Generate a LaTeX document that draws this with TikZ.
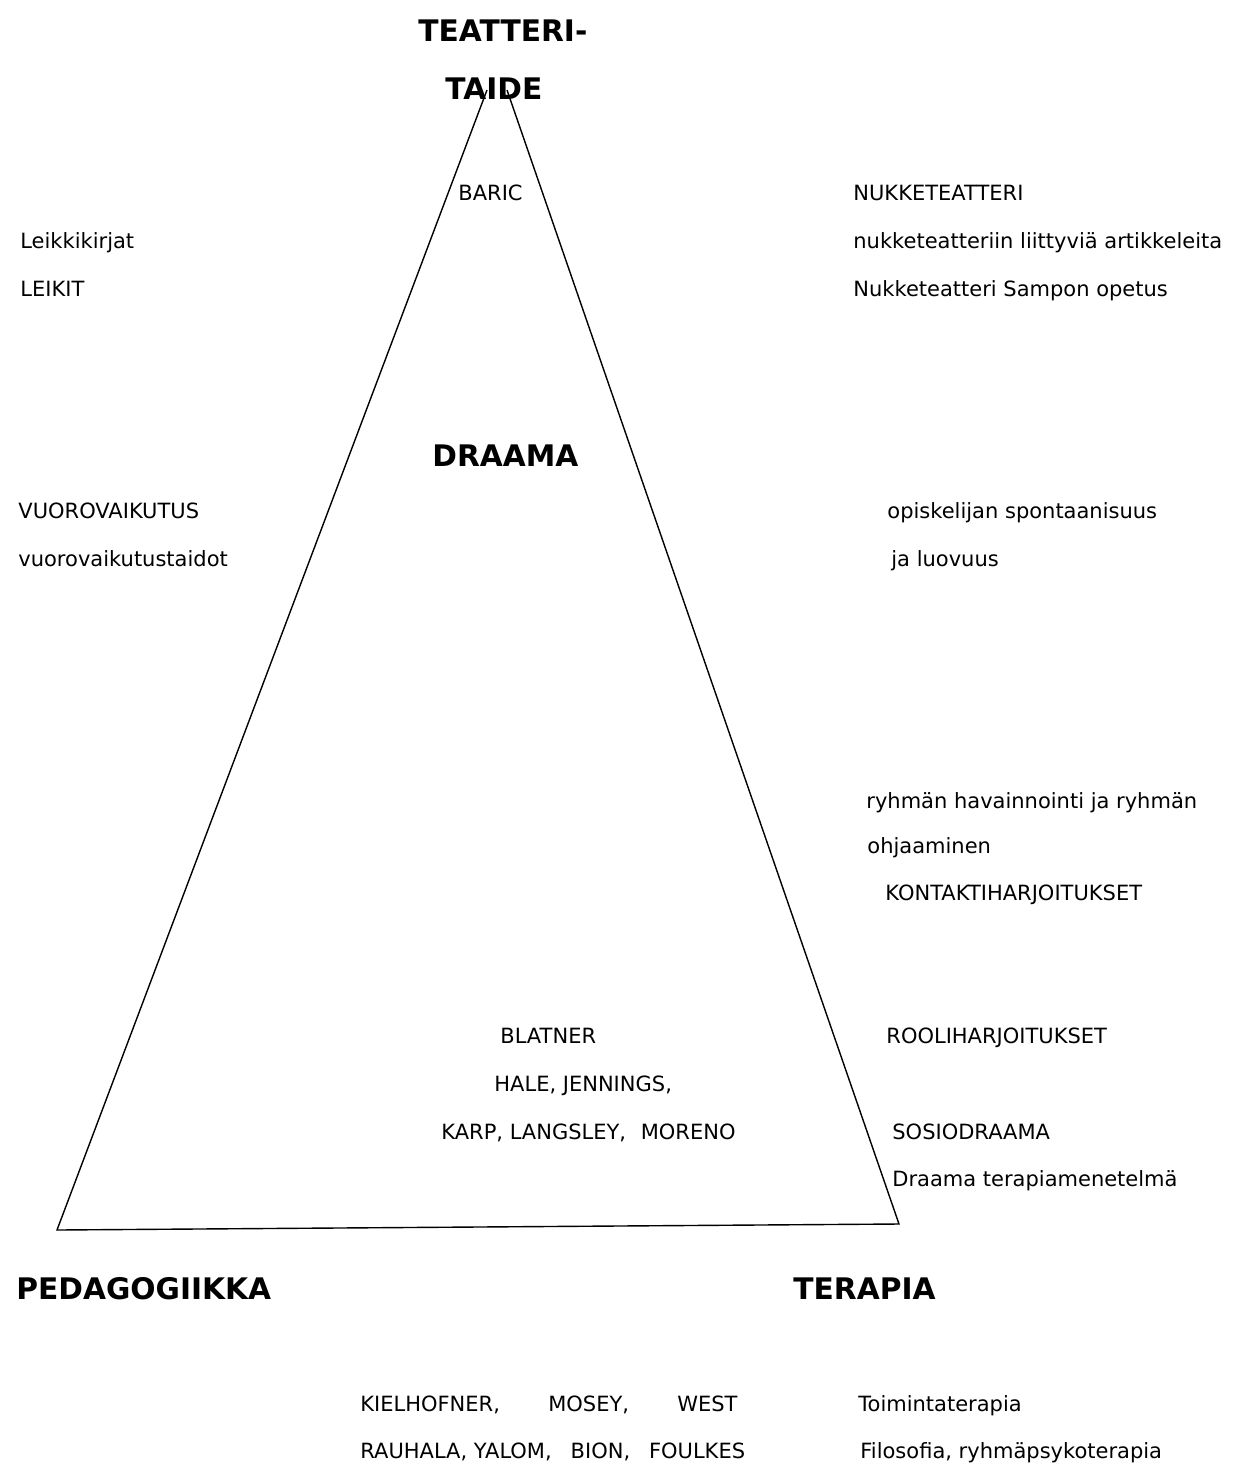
\documentclass[tikz,border=0pt]{standalone}
\usepackage{fontspec}
\setmainfont{DejaVu Sans}
\begin{document}
\begin{tikzpicture}[
    x=0.5pt, y=-0.5pt,
    txt/.style  = {anchor = base west, inner sep = 0pt, font = \fontsize{10.5}{13}\selectfont},
    head/.style = {anchor = base west, inner sep = 0pt, font = \fontsize{14.85}{17}\selectfont\bfseries},
    side/.style = {line width = .7pt},
  ]
	\useasboundingbox (0,0) rectangle (1234,1463);

	% Ecken des Dreiecks
	\coordinate (TL) at (487,90); % Spitze, links
	\coordinate (TR) at (507,90); % Spitze, rechts
	\coordinate (BL) at (57,1230);
	\coordinate (BR) at (899,1224);

	% Seiten
	\draw[side] (TL) -- (BL) -- (BR) -- (TR);

	% Ecken beschriften
	\node (teatteri) at (418,41) [head] {TEATTERI-};
	\node (taide)    at (445,99) [head] {TAIDE};
	\node (draama)   at (432,466) [head] {DRAAMA};
	\node (pedag)    at (16,1299) [head] {PEDAGOGIIKKA};
	\node (terapia)  at (793,1299) [head] {TERAPIA};

	% links
	\node (leikkik)  at (20,248) [txt] {Leikkikirjat};
	\node (leikit)   at (20,296) [txt] {LEIKIT};
	\node (vuoro)    at (18,518) [txt] {VUOROVAIKUTUS};
	\node (vuorot)   at (18,566) [txt] {vuorovaikutustaidot};

	% im Dreieck
	\node (baric)    at (458,200) [txt] {BARIC};
	\node (blatner)  at (500,1043) [txt] {BLATNER};
	\node (hale)     at (494,1091) [txt] {HALE, JENNINGS,};
	\node (karp)     at (441,1139) [txt] {KARP, LANGSLEY,\hspace{0.7em}MORENO};

	% rechts
	\node (nukke)    at (853,200) [txt] {NUKKETEATTERI};
	\node (artik)    at (853,248) [txt] {nukketeatteriin liittyviä artikkeleita};
	\node (sampo)    at (853,296) [txt] {Nukketeatteri Sampon opetus};
	\node (spont)    at (887,518) [txt] {opiskelijan spontaanisuus};
	\node (luov)     at (891,566) [txt] {ja luovuus};
	\node (ryhma)    at (866,808) [txt] {ryhmän havainnointi ja ryhmän};
	\node (ohjaus)   at (867,853) [txt] {ohjaaminen};
	\node (kontakti) at (885,900) [txt] {KONTAKTIHARJOITUKSET};
	\node (rooli)    at (886,1043) [txt] {ROOLIHARJOITUKSET};
	\node (sosio)    at (892,1139) [txt] {SOSIODRAAMA};
	\node (menet)    at (892,1186) [txt] {Draama terapiamenetelmä};

	% unten
	\node (kielh)    at (360,1411) [txt] {KIELHOFNER,\hspace{2.3em}MOSEY,\hspace{2.3em}WEST};
	\node (rauh)     at (360,1458) [txt] {RAUHALA, YALOM,\hspace{0.9em}BION,\hspace{0.9em}FOULKES};
	\node (toim)     at (858,1411) [txt] {Toimintaterapia};
	\node (filos)    at (860,1458) [txt] {Filosofia, ryhmäpsykoterapia};
\end{tikzpicture}
\end{document}
